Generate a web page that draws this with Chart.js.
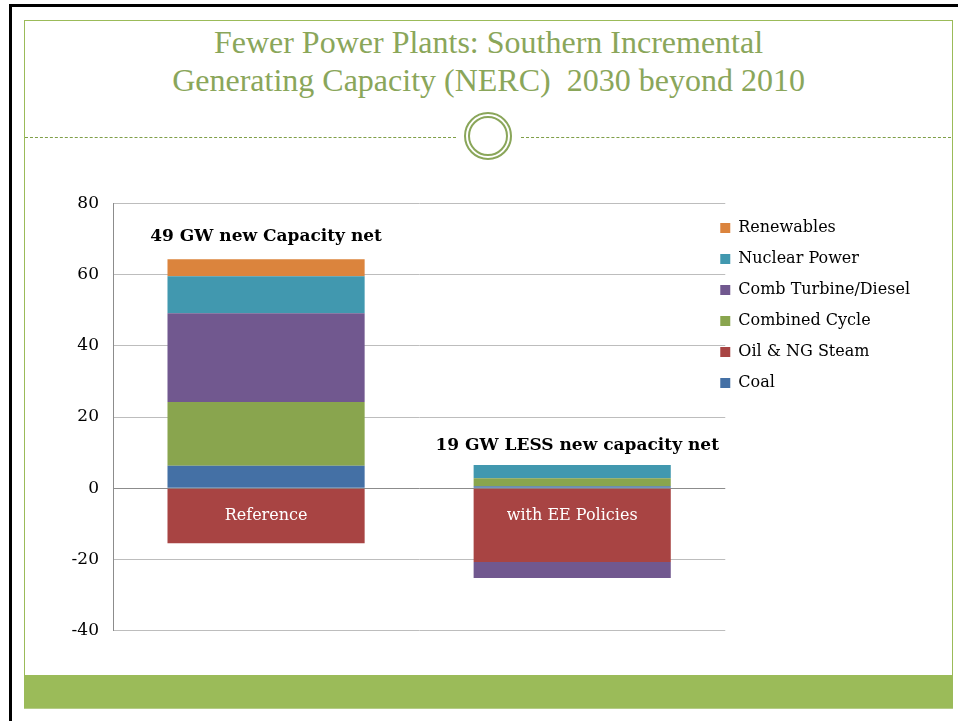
<!DOCTYPE html>
<html>
<head>
<meta charset="utf-8">
<script src="https://cdn.jsdelivr.net/npm/chart.js@4.4.0/dist/chart.umd.min.js"></script>
<style>
  body { margin: 0; background: #fff; width: 958px; height: 721px; overflow: hidden; position: relative; }
  .edge-top { position: absolute; left: 9px; top: 4px; width: 949px; height: 3px; background: #000; }
  .edge-left { position: absolute; left: 9px; top: 4px; width: 3px; height: 717px; background: #000; }
  .frame { position: absolute; left: 24px; top: 20px; width: 927px; height: 655px; border: 1px solid #9bbb59; border-bottom: none; }
  .band { position: absolute; left: 24px; top: 675px; width: 929px; height: 33px; background: #9bbb59; border-bottom: 1px solid #b5cc88; }
  .title { position: absolute; left: 24px; top: 23px; width: 929px; text-align: center; color: #8aa65a;
           font-family: 'Liberation Serif', serif; font-size: 32px; line-height: 38px; }
  .rule { position: absolute; top: 137px; height: 0; border-top: 1px dashed #7f9f48; }
  .ring { position: absolute; border-radius: 50%; border: 2px solid #8aa65a; box-sizing: border-box; }
  #wrap { position: absolute; left: 40px; top: 179px; width: 900px; height: 476px; }
</style>
</head>
<body>
<div class="edge-top"></div>
<div class="edge-left"></div>
<div class="frame"></div>
<div class="band"></div>
<div class="title">Fewer Power Plants: Southern Incremental<br>Generating Capacity (NERC)&nbsp; 2030 beyond 2010</div>
<div class="rule" style="left:25px;width:431px"></div>
<div class="rule" style="left:521px;width:430px"></div>
<div class="ring" style="left:464px;top:112px;width:48px;height:48px"></div>
<div class="ring" style="left:468px;top:116px;width:40px;height:40px"></div>
<div id="wrap"><canvas id="capChart"></canvas></div>

<script>
Chart.defaults.animation = false;

// --- Data (GW, 2030 beyond 2010) ---
const categories = ['Reference', 'with EE Policies'];
const coal = [6.3, 0.6];
const oilSteam = [-15.4, -20.7];
const combinedCycle = [17.9, 2.2];
const combTurbine = [24.9, -4.5];
const nuclear = [10.4, 3.7];
const renewables = [4.8, 0];
const yTicks = [-40, -20, 0, 20, 40, 60, 80];
const netNotes = ['49 GW new Capacity net', '19 GW LESS new capacity net'];

const serif = "'DejaVu Serif', serif";

// draws the note above each stack and the category name inside the bar
const barNotes = {
  id: 'barNotes',
  afterDatasetsDraw(chart) {
    const ctx = chart.ctx;
    const y = chart.scales.y;
    const meta0 = chart.getDatasetMeta(0);
    ctx.save();
    ctx.textAlign = 'center';
    ctx.textBaseline = 'middle';
    categories.forEach((name, i) => {
      const x = meta0.data[i].x;
      let top = 0;
      chart.data.datasets.forEach(ds => { if (ds.data[i] > 0) top += ds.data[i]; });
      ctx.fillStyle = '#000';
      ctx.font = 'bold 17px ' + serif;
      ctx.fillText(netNotes[i], i === 0 ? x : x + 5, y.getPixelForValue(top) - (i === 0 ? 23 : 20));
      ctx.fillStyle = '#fff';
      ctx.font = '16px ' + serif;
      ctx.fillText(name, x, y.getPixelForValue(0) + 28);
    });
    ctx.restore();
  }
};

// move the legend in closer to the plot, like the original
const legendShift = {
  id: 'legendShift',
  afterLayout(chart) {
    const lg = chart.legend;
    const dx = chart.chartArea.right - 5 - lg.left - 15;
    lg.left += dx;
    lg.right += dx;
    lg.top += 24;
    lg.bottom += 24;
  }
};

new Chart(document.getElementById('capChart').getContext('2d'), {
  type: 'bar',
  data: {
    labels: categories,
    datasets: [
      { label: 'Coal', data: coal, backgroundColor: '#4470a5' },
      { label: 'Oil & NG Steam', data: oilSteam, backgroundColor: '#a84443' },
      { label: 'Combined Cycle', data: combinedCycle, backgroundColor: '#89a54e' },
      { label: 'Comb Turbine/Diesel', data: combTurbine, backgroundColor: '#71588f' },
      { label: 'Nuclear Power', data: nuclear, backgroundColor: '#4198af' },
      { label: 'Renewables', data: renewables, backgroundColor: '#db843d' }
    ]
  },
  options: {
    responsive: true,
    maintainAspectRatio: false,
    layout: { padding: { top: 2, bottom: 14, left: 0, right: 0 } },
    datasets: { bar: { barPercentage: 0.644, categoryPercentage: 1, borderWidth: 0 } },
    scales: {
      x: { stacked: true, display: false },
      y: {
        stacked: true,
        min: -40,
        max: 80,
        afterBuildTicks(scale) { scale.ticks = yTicks.map(v => ({ value: v })); },
        afterFit(scale) { scale.width = 73; },
        border: { display: true, color: '#8c8c8c' },
        grid: {
          drawTicks: false,
          color: ctx => ctx.tick && ctx.tick.value === 0 ? '#8c8c8c' : '#bdbdbd'
        },
        ticks: { padding: 14, color: '#000', font: { family: serif, size: 17 } }
      }
    },
    plugins: {
      legend: {
        position: 'right',
        align: 'start',
        reverse: true,
        labels: {
          boxWidth: 10,
          boxHeight: 10,
          padding: 15,
          color: '#000',
          font: { family: serif, size: 16 }
        }
      },
      tooltip: { enabled: false }
    }
  },
  plugins: [barNotes, legendShift]
});
</script>
</body>
</html>
